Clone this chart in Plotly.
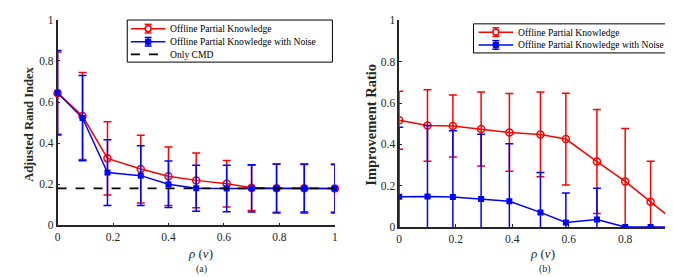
import plotly.graph_objects as go

# ---------------- data ----------------
x_a = [0, 0.09, 0.18, 0.30, 0.40, 0.50, 0.61, 0.70, 0.79, 0.89, 1.0]
ari_opk = [0.643, 0.532, 0.326, 0.274, 0.239, 0.219, 0.203, 0.183, 0.181, 0.181, 0.180]
ari_opk_err = [0.200, 0.212, 0.178, 0.165, 0.142, 0.133, 0.113, 0.110, 0.117, 0.115, 0.115]
ari_opkn = [0.645, 0.522, 0.257, 0.242, 0.200, 0.181, 0.180, 0.180, 0.180, 0.180, 0.180]
ari_opkn_err = [0.205, 0.207, 0.160, 0.145, 0.113, 0.112, 0.113, 0.115, 0.119, 0.119, 0.119]
cmd_x = [0, 1]
cmd_y = [0.18, 0.18]

x_b = [0, 0.10, 0.19, 0.29, 0.39, 0.50, 0.59, 0.70, 0.80, 0.89, 1.0]
imp_opk = [0.517, 0.491, 0.489, 0.474, 0.458, 0.448, 0.426, 0.317, 0.221, 0.122, 0.0]
imp_opk_err = [0.140, 0.173, 0.150, 0.179, 0.188, 0.205, 0.222, 0.252, 0.256, 0.196, 0.0]
imp_opkn = [0.147, 0.148, 0.145, 0.136, 0.125, 0.071, 0.022, 0.036, 0.0, 0.0, 0.0]
imp_opkn_err = [0.336, 0.343, 0.321, 0.313, 0.278, 0.193, 0.143, 0.152, 0.0, 0.0, 0.0]

tick_vals = [0, 0.2, 0.4, 0.6, 0.8, 1]
tick_text = ["0", "0.2", "0.4", "0.6", "0.8", "1"]

names = ["Offline Partial Knowledge", "Offline Partial Knowledge with Noise", "Only CMD"]

# ---------------- style ----------------
FONT = "Liberation Serif"
RED = "#ff0000"
BLUE = "#0000ff"
AX = "#262626"
W, H = 673, 277


def px(v):
    return v / W


def py(v):
    return 1 - v / H


def err(arr, color):
    return dict(type="data", array=arr, visible=True, color=color,
                thickness=1.5, width=4)


fig = go.Figure()

# ---- panel (a) ----
fig.add_trace(go.Scatter(
    x=x_a, y=ari_opk, name=names[0], mode="lines+markers",
    line=dict(color=RED, width=1.5),
    marker=dict(symbol="circle-open", size=7, color=RED, line=dict(width=1.5, color=RED)),
    error_y=err(ari_opk_err, RED), cliponaxis=False, showlegend=False,
    xaxis="x", yaxis="y"))
fig.add_trace(go.Scatter(
    x=x_a, y=ari_opkn, name=names[1], mode="lines+markers",
    line=dict(color=BLUE, width=1.5),
    marker=dict(symbol="square", size=6, color=BLUE),
    error_y=err(ari_opkn_err, BLUE), cliponaxis=False, showlegend=False,
    xaxis="x", yaxis="y"))
fig.add_trace(go.Scatter(
    x=cmd_x, y=cmd_y, name=names[2], mode="lines",
    line=dict(color="black", width=1.8, dash="dash"), showlegend=False,
    xaxis="x", yaxis="y"))

# ---- panel (b) ----
fig.add_trace(go.Scatter(
    x=x_b, y=imp_opk, name=names[0], mode="lines+markers",
    line=dict(color=RED, width=1.5),
    marker=dict(symbol="circle-open", size=7, color=RED, line=dict(width=1.5, color=RED)),
    error_y=err(imp_opk_err, RED), showlegend=False,
    xaxis="x2", yaxis="y2"))
fig.add_trace(go.Scatter(
    x=x_b, y=imp_opkn, name=names[1], mode="lines+markers",
    line=dict(color=BLUE, width=1.5),
    marker=dict(symbol="square", size=6, color=BLUE),
    error_y=err(imp_opkn_err, BLUE), showlegend=False,
    xaxis="x2", yaxis="y2"))

axis_common = dict(
    showline=True, linecolor=AX, linewidth=1.5, mirror=False,
    ticks="inside", ticklen=3, tickwidth=1.2, tickcolor=AX,
    showgrid=False, zeroline=False, tickvals=tick_vals, ticktext=tick_text,
    tickfont=dict(family=FONT, size=11.5, color=AX), layer="below traces",
)

fig.update_layout(
    width=W, height=H,
    margin=dict(l=0, r=0, t=0, b=0),
    paper_bgcolor="white", plot_bgcolor="white",
    font=dict(family=FONT, color=AX),
    showlegend=False,
    xaxis=dict(domain=[px(47), px(326.7)], range=[0, 1], anchor="y", **axis_common),
    yaxis=dict(domain=[py(221), py(6)], range=[0, 1], anchor="x", **axis_common),
    xaxis2=dict(domain=[px(391.7), 1.0], range=[0, (W - 391.7) / 285], anchor="y2", **axis_common),
    yaxis2=dict(domain=[py(222.7), py(6.7)], range=[0, 1], anchor="x2", **axis_common),
)

# ---------------- hand-drawn legends (layout, paper coords) ----------------
shapes = []
annotations = []


def legend_box(x0, x1, y0, y1):
    shapes.append(dict(type="rect", xref="paper", yref="paper",
                       x0=px(x0), x1=px(x1), y0=py(y1), y1=py(y0),
                       line=dict(color="black", width=1), fillcolor="white", layer="above"))


def legend_row(lx0, lx1, ycen, color, label, text_x, marker=None, errbar=True, dash="solid"):
    mx = (lx0 + lx1) / 2
    shapes.append(dict(type="line", xref="paper", yref="paper",
                       x0=px(lx0), x1=px(lx1), y0=py(ycen), y1=py(ycen),
                       line=dict(color=color, width=1.8 if dash != "solid" else 1.5, dash=dash),
                       layer="above"))
    if errbar:
        shapes.append(dict(type="line", xref="paper", yref="paper",
                           x0=px(mx), x1=px(mx), y0=py(ycen - 4.5), y1=py(ycen + 4.5),
                           line=dict(color=color, width=1.5), layer="above"))
        for dy in (-4.5, 4.5):
            shapes.append(dict(type="line", xref="paper", yref="paper",
                               x0=px(mx - 3.5), x1=px(mx + 3.5), y0=py(ycen + dy), y1=py(ycen + dy),
                               line=dict(color=color, width=1.5), layer="above"))
    if marker == "circle":
        shapes.append(dict(type="circle", xref="paper", yref="paper",
                           x0=px(mx - 3), x1=px(mx + 3), y0=py(ycen + 3), y1=py(ycen - 3),
                           line=dict(color=color, width=1.5), fillcolor="white", layer="above"))
    elif marker == "square":
        shapes.append(dict(type="rect", xref="paper", yref="paper",
                           x0=px(mx - 2.7), x1=px(mx + 2.7), y0=py(ycen + 2.7), y1=py(ycen - 2.7),
                           line=dict(color=color, width=1), fillcolor=color, layer="above"))
    annotations.append(dict(text=label, x=px(text_x), y=py(ycen), xref="paper", yref="paper",
                            showarrow=False, xanchor="left", yanchor="middle",
                            font=dict(family=FONT, size=9.6, color="black")))


# legend (a)
legend_box(117.3, 324.3, 6.3, 50.3)
legend_row(121, 155.7, 15.3, RED, names[0], 158.5, marker="circle")
legend_row(121, 155.7, 29.0, BLUE, names[1], 158.5, marker="square")
legend_row(121, 155.7, 42.3, "black", names[2], 158.5, errbar=False, dash="dash")

# legend (b)
legend_box(466.7, 672.5, 10.3, 40.7)
legend_row(471.7, 506.7, 19.0, RED, names[0], 509.5, marker="circle")
legend_row(471.7, 506.7, 32.3, BLUE, names[1], 509.5, marker="square")

# ---------------- axis titles & captions ----------------
title_specs = [
    dict(text="<b>Adjusted Rand Index</b>", x=px(18), y=py(115), textangle=-90,
         font=dict(family=FONT, size=12.5, color=AX)),
    dict(text="<b>Improvement Ratio</b>", x=px(363), y=py(116), textangle=-90,
         font=dict(family=FONT, size=14.5, color=AX)),
    dict(text="<i>ρ</i> (<i>v</i>)", x=px(191), y=py(250.7),
         font=dict(family=FONT, size=13, color=AX)),
    dict(text="<i>ρ</i> (<i>v</i>)", x=px(536.7), y=py(250.7),
         font=dict(family=FONT, size=13, color=AX)),
    dict(text="(a)", x=px(192.7), y=py(266.7), font=dict(family=FONT, size=10, color=AX)),
    dict(text="(b)", x=px(539.3), y=py(267), font=dict(family=FONT, size=10, color=AX)),
]
for a in title_specs:
    a.update(xref="paper", yref="paper", showarrow=False, xanchor="center", yanchor="middle")
    annotations.append(a)

fig.update_layout(shapes=shapes, annotations=annotations)

fig.write_html("out.html")
